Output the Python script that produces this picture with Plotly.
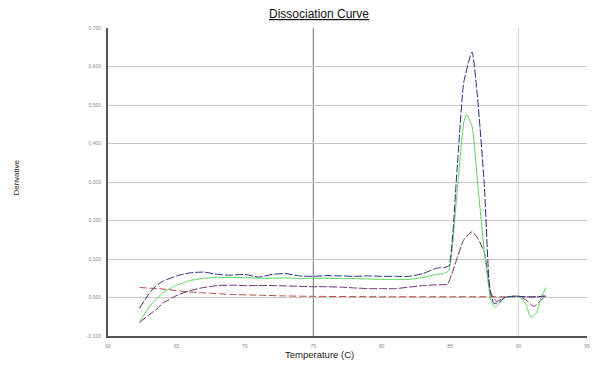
import plotly.graph_objects as go

# ---- data ----
blue_t = [62.3, 63.0, 63.5, 64, 65, 66, 67, 68, 69, 70, 71, 72, 73, 74, 75, 76, 77, 78, 79, 80,
          81, 82, 83, 84, 84.5, 84.9, 85.5, 86.0, 86.6, 87.0, 87.5, 87.9, 88.2, 88.6, 89.0, 89.5,
          90.0, 90.5, 91.0, 91.5, 92.0]
blue_v = [-0.028, 0.010, 0.030, 0.042, 0.056, 0.064, 0.066, 0.060, 0.058, 0.060, 0.053, 0.060,
          0.062, 0.056, 0.055, 0.057, 0.056, 0.055, 0.056, 0.055, 0.055, 0.055, 0.062, 0.076,
          0.078, 0.082, 0.330, 0.560, 0.638, 0.520, 0.290, 0.020, -0.015, -0.012, 0.000, 0.003,
          0.003, 0.002, 0.001, 0.002, 0.005]

green_t = [62.3, 63.0, 63.5, 64, 65, 66, 67, 68, 69, 70, 71, 72, 73, 74, 75, 76, 77, 78, 79, 80,
           81, 82, 83, 84, 84.5, 84.9, 85.5, 86.0, 86.2, 86.6, 87.0, 87.5, 88.0, 88.3, 88.7, 89.0,
           89.5, 90.0, 90.5, 90.9, 91.3, 91.6, 92.0]
green_v = [-0.065, -0.025, -0.005, 0.012, 0.032, 0.044, 0.050, 0.052, 0.052, 0.052, 0.050, 0.050,
           0.051, 0.049, 0.050, 0.050, 0.049, 0.049, 0.048, 0.047, 0.047, 0.047, 0.052, 0.060,
           0.062, 0.070, 0.270, 0.455, 0.475, 0.445, 0.300, 0.120, -0.010, -0.026, -0.010, 0.000,
           0.003, 0.003, -0.015, -0.052, -0.040, -0.005, 0.026]

purple_t = [62.3, 63.0, 63.5, 64, 65, 66, 67, 68, 69, 70, 71, 72, 73, 74, 75, 76, 77, 78, 79, 80,
            81, 82, 83, 84, 84.8, 85.3, 86.0, 86.6, 87.0, 87.5, 88.0, 88.4, 89.0, 89.5, 90.0,
            90.5, 91.1, 91.5, 92.0]
purple_v = [-0.065, -0.045, -0.032, -0.015, 0.005, 0.018, 0.026, 0.031, 0.032, 0.031, 0.031,
            0.031, 0.030, 0.029, 0.028, 0.028, 0.027, 0.025, 0.023, 0.023, 0.023, 0.027, 0.031,
            0.033, 0.035, 0.080, 0.150, 0.171, 0.155, 0.117, 0.010, -0.010, 0.000, 0.003, 0.003,
            -0.005, -0.023, -0.012, 0.005]

red_t = [62.3, 64, 65.5, 67, 69, 71, 73, 75, 80, 85, 90, 92]
red_v = [0.026, 0.022, 0.016, 0.012, 0.008, 0.006, 0.004, 0.003, 0.002, 0.002, 0.002, 0.003]

x_ticks = [60, 65, 70, 75, 80, 85, 90, 95]
y_ticks = [-0.1, 0.0, 0.1, 0.2, 0.3, 0.4, 0.5, 0.6, 0.7]
y_tick_text = ["-0.100", "0.000", "0.100", "0.200", "0.300", "0.400", "0.500", "0.600", "0.700"]
v_grid = [75, 90]

fig = go.Figure()
series = [
    (red_t, red_v, "#b84a4a", "7px,3px"),
    (purple_t, purple_v, "#6b2a6e", "8px,2px"),
    (green_t, green_v, "#5cd65c", "solid"),
    (blue_t, blue_v, "#2a2f80", "8px,2px"),
]
for t, v, c, d in series:
    fig.add_trace(go.Scatter(x=t, y=v, mode="lines",
                             line=dict(color=c, width=1, dash=d, shape="spline", smoothing=0.5),
                             showlegend=False, hoverinfo="skip"))

for i, g in enumerate(v_grid):
    fig.add_shape(type="line", xref="x", yref="paper", x0=g, x1=g, y0=0, y1=1,
                  line=dict(color="#6e6e6e" if i == 0 else "#cfcfcf", width=1), layer="below")

fig.update_layout(
    width=593, height=372,
    margin=dict(l=108, r=3, t=28, b=36),
    paper_bgcolor="white", plot_bgcolor="white",
    font=dict(family="Liberation Sans, Arial, sans-serif", color="#333"),
    xaxis=dict(range=[60, 95], tickvals=x_ticks, showgrid=False, zeroline=False,
               showline=True, linecolor="#555", linewidth=2,
               tickfont=dict(size=5, color="#888"), ticks="", ticklabelstandoff=4),
    yaxis=dict(range=[-0.1, 0.7], tickvals=y_ticks, ticktext=y_tick_text,
               showgrid=True, gridcolor="#c8c8c8", gridwidth=1, zeroline=False,
               showline=True, linecolor="#555", linewidth=2,
               tickfont=dict(size=5, color="#888"), ticks="", ticklabelstandoff=4),
    annotations=[
        dict(text="<u>Dissociation Curve</u>", xref="paper", yref="paper",
             x=(320 - 108) / 482, y=1 + (28 - 14) / 308, xanchor="center", yanchor="middle",
             showarrow=False, font=dict(size=12, color="#111")),
        dict(text="Temperature (C)", xref="paper", yref="paper",
             x=(321 - 108) / 482, y=-(354 - 336) / 308, xanchor="center", yanchor="middle",
             showarrow=False, font=dict(size=9.5, color="#222")),
        dict(text="Derivative", xref="paper", yref="paper", textangle=-90,
             x=-(108 - 15) / 482, y=(336 - 178) / 308, xanchor="center", yanchor="middle",
             showarrow=False, font=dict(size=8, color="#222")),
    ],
)

fig.write_html("out.html")
